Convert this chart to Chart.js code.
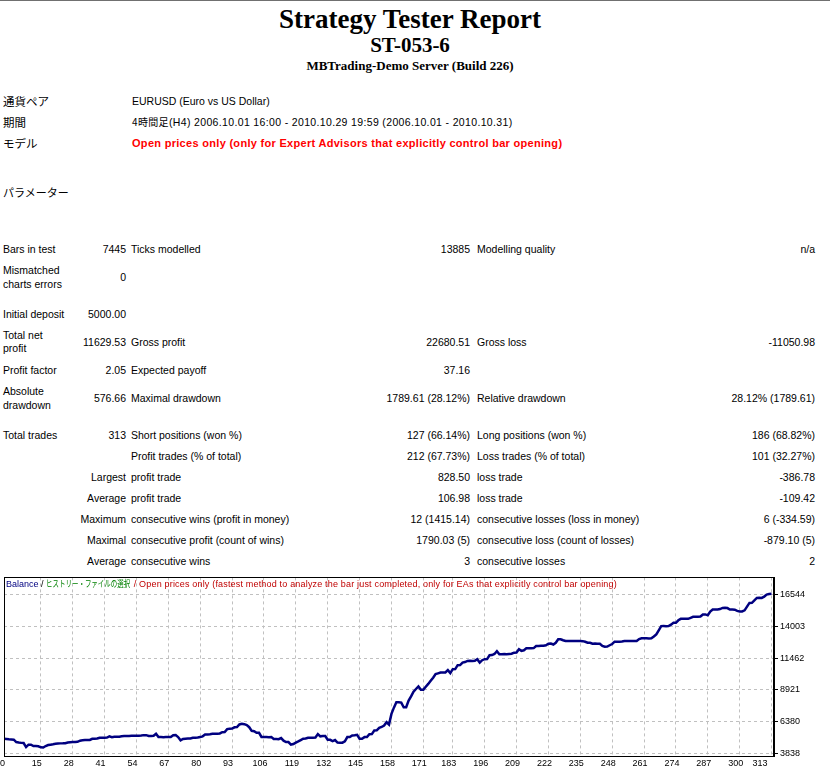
<!DOCTYPE html>
<html>
<head>
<meta charset="utf-8">
<title>Strategy Tester: ST-053-6</title>
<script src="https://cdn.jsdelivr.net/npm/chart.js@4.4.1/dist/chart.umd.min.js"></script>
<style>
html, body { margin: 0; padding: 0; background: #fff; overflow: hidden; }
body { width: 830px; height: 774px; position: relative; font-family: "Liberation Sans", Arial, sans-serif; font-size: 10.5px; color: #000; }
.t { position: absolute; white-space: nowrap; line-height: 12px; }
.jp { font-family: "Noto Sans CJK JP", sans-serif; font-size: 11.5px; }
.jps { font-family: "Noto Sans CJK JP", sans-serif; font-size: 10px; }
.red { color: #ff0000; font-weight: bold; font-size: 11px; letter-spacing: 0.3px; }
.title { position: absolute; left: 0; width: 820px; text-align: center; font-family: "Liberation Serif", "Times New Roman", serif; font-weight: bold; white-space: nowrap; }
#topline { position: absolute; left: 0; top: 0; width: 830px; height: 1px; background: #707070; }
#chartBox { position: absolute; left: 0; top: 570px; width: 830px; height: 204px; }
#legend { position: absolute; left: 6px; top: 578px; font-size: 9px; line-height: 12px; white-space: nowrap; }
#legend .hist { display: inline-block; color: #008000; font-family: "Noto Sans CJK JP", sans-serif; font-size: 9px; transform: scaleX(0.72); transform-origin: left center; margin-right: -32px; }
#legend .mode { color: #c00000; letter-spacing: 0.18px; }
</style>
</head>
<body>
<div id="topline"></div>
<div class="title" style="top:6px; font-size:27px; line-height:27px;">Strategy Tester Report</div>
<div class="title" style="top:35px; font-size:21px; line-height:21px;">ST-053-6</div>
<div class="title" style="top:59px; font-size:13px; line-height:13px;">MBTrading-Demo Server (Build 226)</div>

<div class="t jp" style="left:3px; top:95px;">通貨ペア</div>
<div class="t" style="left:132px; top:95px;">EURUSD (Euro vs US Dollar)</div>
<div class="t jp" style="left:3px; top:116px;">期間</div>
<div class="t" style="left:132px; top:116px; letter-spacing:0.35px;"><span class="jps">4時間足</span>(H4) 2006.10.01 16:00 - 2010.10.29 19:59 (2006.10.01 - 2010.10.31)</div>
<div class="t jp" style="left:3px; top:137px;">モデル</div>
<div class="t red" style="left:132px; top:137px;">Open prices only (only for Expert Advisors that explicitly control bar opening)</div>
<div class="t jp" style="left:3px; top:186px; font-size:11px;">パラメーター</div>

<div class="t" style="left:3px; top:243px;">Bars in test</div>
<div class="t" style="right:704px; top:243px;">7445</div>
<div class="t" style="left:131px; top:243px;">Ticks modelled</div>
<div class="t" style="right:360px; top:243px;">13885</div>
<div class="t" style="left:477px; top:243px;">Modelling quality</div>
<div class="t" style="right:15px; top:243px;">n/a</div>

<div class="t" style="left:3px; top:264px;">Mismatched</div>
<div class="t" style="left:3px; top:278px;">charts errors</div>
<div class="t" style="right:704px; top:271px;">0</div>

<div class="t" style="left:3px; top:308px;">Initial deposit</div>
<div class="t" style="right:704px; top:308px;">5000.00</div>

<div class="t" style="left:3px; top:329px;">Total net</div>
<div class="t" style="left:3px; top:342px;">profit</div>
<div class="t" style="right:704px; top:336px;">11629.53</div>
<div class="t" style="left:131px; top:336px;">Gross profit</div>
<div class="t" style="right:360px; top:336px;">22680.51</div>
<div class="t" style="left:477px; top:336px;">Gross loss</div>
<div class="t" style="right:15px; top:336px;">-11050.98</div>

<div class="t" style="left:3px; top:364px;">Profit factor</div>
<div class="t" style="right:704px; top:364px;">2.05</div>
<div class="t" style="left:131px; top:364px;">Expected payoff</div>
<div class="t" style="right:360px; top:364px;">37.16</div>

<div class="t" style="left:3px; top:385px;">Absolute</div>
<div class="t" style="left:3px; top:399px;">drawdown</div>
<div class="t" style="right:704px; top:392px;">576.66</div>
<div class="t" style="left:131px; top:392px;">Maximal drawdown</div>
<div class="t" style="right:360px; top:392px;">1789.61 (28.12%)</div>
<div class="t" style="left:477px; top:392px;">Relative drawdown</div>
<div class="t" style="right:15px; top:392px;">28.12% (1789.61)</div>

<div class="t" style="left:3px; top:429px;">Total trades</div>
<div class="t" style="right:704px; top:429px;">313</div>
<div class="t" style="left:131px; top:429px;">Short positions (won %)</div>
<div class="t" style="right:360px; top:429px;">127 (66.14%)</div>
<div class="t" style="left:477px; top:429px;">Long positions (won %)</div>
<div class="t" style="right:15px; top:429px;">186 (68.82%)</div>

<div class="t" style="left:131px; top:450px;">Profit trades (% of total)</div>
<div class="t" style="right:360px; top:450px;">212 (67.73%)</div>
<div class="t" style="left:477px; top:450px;">Loss trades (% of total)</div>
<div class="t" style="right:15px; top:450px;">101 (32.27%)</div>

<div class="t" style="right:704px; top:471px;">Largest</div>
<div class="t" style="left:131px; top:471px;">profit trade</div>
<div class="t" style="right:360px; top:471px;">828.50</div>
<div class="t" style="left:477px; top:471px;">loss trade</div>
<div class="t" style="right:15px; top:471px;">-386.78</div>

<div class="t" style="right:704px; top:492px;">Average</div>
<div class="t" style="left:131px; top:492px;">profit trade</div>
<div class="t" style="right:360px; top:492px;">106.98</div>
<div class="t" style="left:477px; top:492px;">loss trade</div>
<div class="t" style="right:15px; top:492px;">-109.42</div>

<div class="t" style="right:704px; top:513px;">Maximum</div>
<div class="t" style="left:131px; top:513px;">consecutive wins (profit in money)</div>
<div class="t" style="right:360px; top:513px;">12 (1415.14)</div>
<div class="t" style="left:477px; top:513px;">consecutive losses (loss in money)</div>
<div class="t" style="right:15px; top:513px;">6 (-334.59)</div>

<div class="t" style="right:704px; top:534px;">Maximal</div>
<div class="t" style="left:131px; top:534px;">consecutive profit (count of wins)</div>
<div class="t" style="right:360px; top:534px;">1790.03 (5)</div>
<div class="t" style="left:477px; top:534px;">consecutive loss (count of losses)</div>
<div class="t" style="right:15px; top:534px;">-879.10 (5)</div>

<div class="t" style="right:704px; top:555px;">Average</div>
<div class="t" style="left:131px; top:555px;">consecutive wins</div>
<div class="t" style="right:360px; top:555px;">3</div>
<div class="t" style="left:477px; top:555px;">consecutive losses</div>
<div class="t" style="right:15px; top:555px;">2</div>

<div id="chartBox"><canvas id="balanceChart" width="830" height="204"></canvas></div>
<div id="legend"><span style="color:#000080">Balance</span> / <span class="hist">ヒストリー・ファイルの選択</span><span class="mode"> / Open prices only (fastest method to analyze the bar just completed, only for EAs that explicitly control bar opening)</span></div>

<script>
// trade numbers shown under the graph
const xTicks = [0, 15, 28, 41, 54, 67, 80, 93, 106, 119, 132, 145, 158, 171, 183, 196, 209, 222, 235, 248, 261, 274, 287, 300, 313];
const yTicks = [3838, 6380, 8921, 11462, 14003, 16544];

// balance after each trade (0 = initial deposit)
const balance = [
    5000, 4985, 4960, 4945, 4930, 4740, 4700, 4675, 4660, 4340,
    4530, 4530, 4420, 4420, 4400, 4320, 4300, 4420, 4500, 4530,
    4560, 4600, 4620, 4635, 4640, 4650, 4700, 4720, 4738, 4745,
    4760, 4850, 4880, 4898, 4900, 4910, 5000, 5009, 5020, 5080,
    5089, 5095, 5100, 5192, 5130, 5160, 5168, 5175, 5210, 5224,
    5230, 5230, 5240, 5240, 5250, 5250, 5260, 5296, 5296, 5230,
    5224, 5240, 5407, 5140, 5137, 5130, 5137, 5140, 5145, 5290,
    5296, 5137, 4878, 4990, 5009, 5020, 5030, 5080, 5089, 5100,
    5140, 5200, 5340, 5351, 5360, 5400, 5407, 5410, 5430, 5530,
    5540, 5780, 5800, 5820, 5920, 5940, 6150, 6204, 6172, 6100,
    5933, 5640, 5615, 5490, 5480, 5150, 5137, 5140, 5130, 5137,
    4980, 4977, 4970, 5060, 4850, 4740, 4738, 4531, 4580, 4700,
    4794, 4900, 5009, 5020, 5080, 5089, 5090, 5100, 5375, 5200,
    5224, 5230, 4929, 4920, 4818, 4900, 4700, 4690, 4690, 4800,
    5137, 5140, 5272, 5280, 5320, 5009, 5010, 5137, 5140, 5375,
    5380, 5670, 5680, 5885, 5950, 6068, 6331, 6148, 7000, 7500,
    7925, 7930, 7900, 7526, 7530, 8060, 8400, 8777, 8992, 9199,
    8936, 8940, 9175, 9400, 9653, 9900, 10186, 10250, 10314, 10320,
    10314, 10505, 10267, 10585, 10590, 10904, 10910, 11111, 11150, 11247,
    11250, 11240, 11247, 11382, 11111, 11300, 11382, 11390, 11700, 11710,
    11800, 12019, 11780, 11780, 11790, 11780, 11800, 11820, 11907, 11910,
    12178, 12050, 12100, 12257, 12257, 12260, 12270, 12441, 12441, 12450,
    12460, 12500, 12624, 12630, 12560, 12700, 12975, 12980, 12900, 12839,
    12839, 12840, 12835, 12839, 12845, 12839, 12830, 12780, 12704, 12700,
    12624, 12630, 12620, 12624, 12450, 12385, 12390, 12500, 12600, 12784,
    12784, 12790, 12800, 12839, 12839, 12845, 12840, 12850, 12839, 13000,
    13055, 13060, 13055, 13050, 13055, 13200, 13374, 13700, 14034, 14040,
    14030, 14034, 14150, 14298, 14300, 14500, 14617, 14620, 14630, 14617,
    14700, 14776, 14780, 14776, 14800, 14966, 14970, 14900, 15200, 15364,
    15370, 15364, 15400, 15492, 15500, 15480, 15364, 15360, 15350, 15250,
    15205, 15210, 15300, 15600, 15892, 15900, 16100, 16290, 16300, 16290,
    16400, 16561, 16600, 16629.53
];

// black frame round the plot, like the tester window
const frame = {
    id: 'frame',
    afterDraw(chart) {
        const a = chart.chartArea;
        const ctx = chart.ctx;
        ctx.save();
        ctx.strokeStyle = '#000';
        ctx.lineWidth = 1;
        ctx.strokeRect(Math.round(a.left) + 0.5, Math.round(a.top) + 0.5,
            Math.round(a.right - a.left) - 1, Math.round(a.bottom - a.top));
        ctx.restore();
    }
};

const tickFont = { family: '"Liberation Sans", Arial, sans-serif', size: 9 };

const ctx = document.getElementById('balanceChart').getContext('2d');
const balanceChart = new Chart(ctx, {
    type: 'line',
    data: {
        datasets: [{
            label: 'Balance',
            data: balance.map((v, i) => ({ x: i, y: v })),
            borderColor: '#000080',
            borderWidth: 2.5,
            pointRadius: 0,
            tension: 0,
            fill: false
        }]
    },
    options: {
        responsive: false,
        animation: false,
        devicePixelRatio: 1,
        layout: { padding: { left: 4, top: 6, right: 0, bottom: 0 } },
        plugins: {
            legend: { display: false },
            tooltip: { enabled: false }
        },
        scales: {
            x: {
                type: 'linear',
                min: 0,
                max: 314,
                afterBuildTicks: (scale) => { scale.ticks = xTicks.map(v => ({ value: v })); },
                afterFit: (scale) => { scale.height = 18; },
                grid: { color: '#c0c0c0', drawTicks: false },
                border: { color: '#000', dash: [3, 3] },
                ticks: {
                    color: '#000',
                    font: tickFont,
                    padding: 2,
                    maxRotation: 0,
                    autoSkip: false,
                    align: 'inner',
                    labelOffset: -4,
                    callback: (v) => String(v)
                }
            },
            y: {
                position: 'right',
                min: 3623,
                max: 17938,
                afterBuildTicks: (scale) => { scale.ticks = yTicks.map(v => ({ value: v })); },
                afterFit: (scale) => { scale.width = 56; },
                grid: { color: '#c0c0c0', tickColor: '#000', tickLength: 4, tickBorderDash: [] },
                border: { color: '#000', dash: [3, 3] },
                ticks: {
                    color: '#000',
                    font: tickFont,
                    padding: 2,
                    crossAlign: 'near',
                    autoSkip: false,
                    callback: (v) => String(v)
                }
            }
        }
    },
    plugins: [frame]
});
</script>
</body>
</html>
